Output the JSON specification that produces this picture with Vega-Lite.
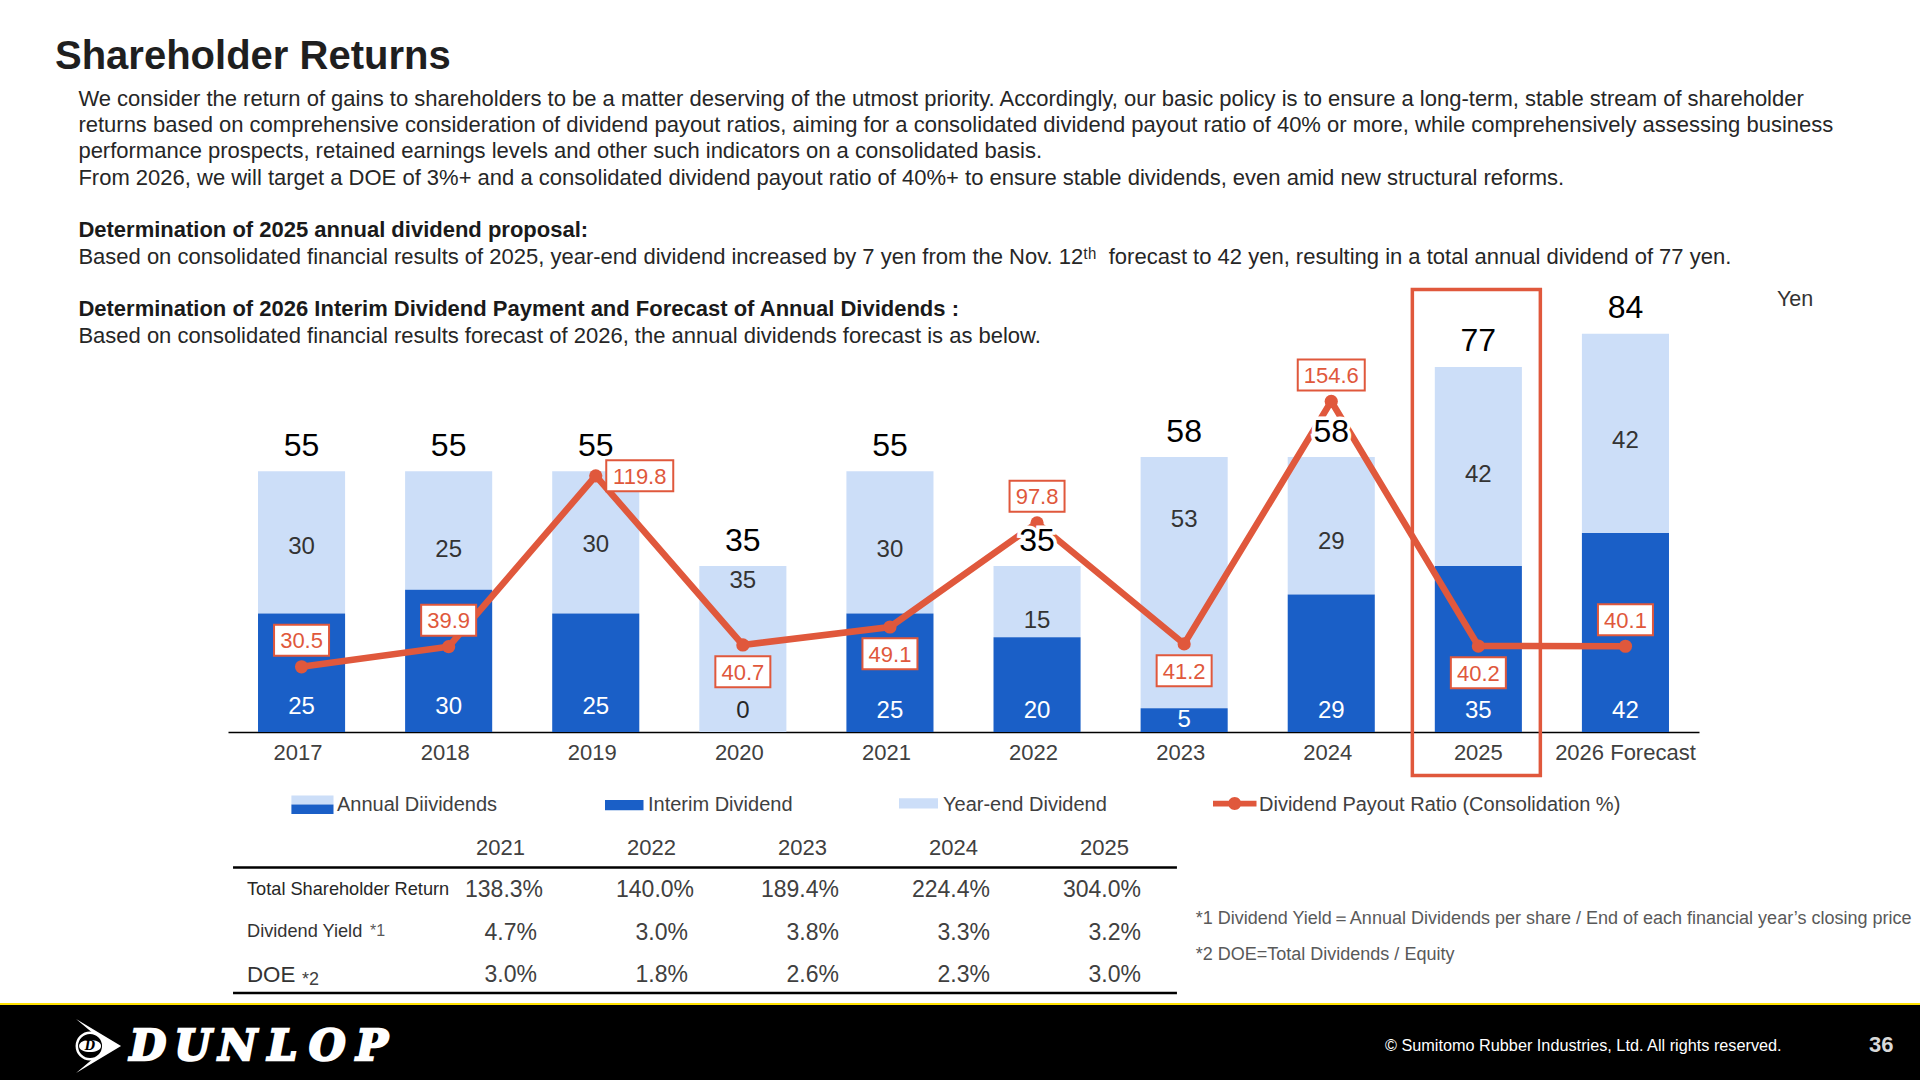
{
  "$schema": "https://vega.github.io/schema/vega-lite/v6.json",
  "width": 1920,
  "height": 1080,
  "padding": 0,
  "autosize": {"type": "none"},
  "background": "white",
  "config": {"font": "Liberation Sans", "view": {"stroke": null}},
  "title": {
    "text": "Shareholder Returns",
    "anchor": "start",
    "frame": "group",
    "offset": -77,
    "dx": 55,
    "fontSize": 40,
    "fontWeight": "bold",
    "color": "#1f1f1f"
  },
  "datasets": {
    "paragraphs": [
      {"line": 0, "kind": "body", "text": "We consider the return of gains to shareholders to be a matter deserving of the utmost priority. Accordingly, our basic policy is to ensure a long-term, stable stream of shareholder"},
      {"line": 1, "kind": "body", "text": "returns based on comprehensive consideration of dividend payout ratios, aiming for a consolidated dividend payout ratio of 40% or more, while comprehensively assessing business"},
      {"line": 2, "kind": "body", "text": "performance prospects, retained earnings levels and other such indicators on a consolidated basis."},
      {"line": 3, "kind": "body", "text": "From 2026, we will target a DOE of 3%+ and a consolidated dividend payout ratio of 40%+ to ensure stable dividends, even amid new structural reforms."},
      {"line": 5, "kind": "heading", "text": "Determination of 2025 annual dividend proposal:"},
      {"line": 6, "kind": "body", "text": "Based on consolidated financial results of 2025, year-end dividend increased by 7 yen from the Nov. 12ᵗʰ\u00a0 forecast to 42 yen, resulting in a total annual dividend of 77 yen."},
      {"line": 8, "kind": "heading", "text": "Determination of 2026 Interim Dividend Payment and Forecast of Annual Dividends :"},
      {"line": 9, "kind": "body", "text": "Based on consolidated financial results forecast of 2026, the annual dividends forecast is as below."}
    ],
    "dividends": [
      {"year": "2017", "interim": 25, "yearEnd": 30, "total": 55, "ratio": 30.5},
      {"year": "2018", "interim": 30, "yearEnd": 25, "total": 55, "ratio": 39.9},
      {"year": "2019", "interim": 25, "yearEnd": 30, "total": 55, "ratio": 119.8},
      {"year": "2020", "interim": 0, "yearEnd": 35, "total": 35, "ratio": 40.7},
      {"year": "2021", "interim": 25, "yearEnd": 30, "total": 55, "ratio": 49.1},
      {"year": "2022", "interim": 20, "yearEnd": 15, "total": 35, "ratio": 97.8},
      {"year": "2023", "interim": 5, "yearEnd": 53, "total": 58, "ratio": 41.2},
      {"year": "2024", "interim": 29, "yearEnd": 29, "total": 58, "ratio": 154.6},
      {"year": "2025", "interim": 35, "yearEnd": 42, "total": 77, "ratio": 40.2},
      {"year": "2026 Forecast", "interim": 42, "yearEnd": 42, "total": 84, "ratio": 40.1}
    ],
    "legendItems": [
      {"slot": 0, "label": "Annual Diividends"},
      {"slot": 1, "label": "Interim Dividend"},
      {"slot": 2, "label": "Year-end Dividend"},
      {"slot": 3, "label": "Dividend Payout Ratio (Consolidation %)"}
    ],
    "returns": [
      {"metric": "Total Shareholder Return", "year": 2021, "value": 1.383},
      {"metric": "Total Shareholder Return", "year": 2022, "value": 1.4},
      {"metric": "Total Shareholder Return", "year": 2023, "value": 1.894},
      {"metric": "Total Shareholder Return", "year": 2024, "value": 2.244},
      {"metric": "Total Shareholder Return", "year": 2025, "value": 3.04},
      {"metric": "Dividend Yield", "year": 2021, "value": 0.047},
      {"metric": "Dividend Yield", "year": 2022, "value": 0.03},
      {"metric": "Dividend Yield", "year": 2023, "value": 0.038},
      {"metric": "Dividend Yield", "year": 2024, "value": 0.033},
      {"metric": "Dividend Yield", "year": 2025, "value": 0.032},
      {"metric": "DOE", "year": 2021, "value": 0.03},
      {"metric": "DOE", "year": 2022, "value": 0.018},
      {"metric": "DOE", "year": 2023, "value": 0.026},
      {"metric": "DOE", "year": 2024, "value": 0.023},
      {"metric": "DOE", "year": 2025, "value": 0.03}
    ],
    "slide": [
      {"key": "footer", "text": ""},
      {"key": "yen", "text": "Yen"},
      {"key": "note1", "text": "*1 Dividend Yield＝Annual Dividends per share / End of each financial year’s closing price"},
      {"key": "note2", "text": "*2 DOE=Total Dividends / Equity"},
      {"key": "copyright", "text": "© Sumitomo Rubber Industries, Ltd. All rights reserved."},
      {"key": "page", "text": "36"},
      {"key": "emblem", "text": "D"}
    ],
    "logoLetters": [
      {"letter": "D"},
      {"letter": "U"},
      {"letter": "N"},
      {"letter": "L"},
      {"letter": "O"},
      {"letter": "P"}
    ]
  },
  "resolve": {"scale": {"x": "independent", "y": "independent"}},
  "layer": [
    {
      "data": {"name": "paragraphs"},
      "encoding": {
        "x": {"datum": 4.083, "type": "quantitative", "scale": {"domain": [0, 100], "range": [0, 1920], "nice": false}, "axis": null},
        "y": {"field": "line", "type": "quantitative", "scale": {"domain": [0, 9], "range": [98.5, 335.5], "nice": false, "zero": false}, "axis": null},
        "text": {"field": "text"}
      },
      "layer": [
        {
          "transform": [{"filter": "datum.kind == 'body'"}],
          "mark": {"type": "text", "align": "left", "baseline": "middle", "fontSize": 22, "color": "#262626"}
        },
        {
          "transform": [{"filter": "datum.kind == 'heading'"}],
          "mark": {"type": "text", "align": "left", "baseline": "middle", "fontSize": 22, "fontWeight": "bold", "color": "#1a1a1a"}
        }
      ]
    },
    {
      "data": {"name": "dividends"},
      "transform": [
        {"calculate": "{'2017': 39.2, '2018': 38.6, '2019': 39.6, '2020': 32, '2021': 38.5, '2022': 23.7, '2023': 45, '2024': 40.3, '2025': 54.4, '2026 Forecast': 61.5}[datum.year]", "as": "yearEndAt"},
        {"calculate": "{'2017': 5.5, '2018': 5.5, '2019': 5.5, '2023': 2.7}[datum.year] || 4.6", "as": "interimAt"}
      ],
      "encoding": {
        "x": {
          "field": "year",
          "type": "nominal",
          "title": null,
          "scale": {"domain": ["2017", "2018", "2019", "2020", "2021", "2022", "2023", "2024", "2025", "2026 Forecast"], "range": [228, 1699], "paddingInner": 0.408, "paddingOuter": 0.204},
          "axis": {
            "offset": -348,
            "ticks": false,
            "grid": false,
            "labelAngle": 0,
            "labelFontSize": 22,
            "labelColor": "#404040",
            "labelPadding": 10,
            "labelOverlap": false,
            "labelOffset": {"expr": "datum.value >= '2025' ? 0 : -3.5"},
            "domainColor": "#000000",
            "domainWidth": 1.5
          }
        }
      },
      "layer": [
        {
          "mark": {"type": "bar", "color": "#CCDEF8"},
          "encoding": {
            "y": {"field": "total", "type": "quantitative", "scale": {"domain": [0, 84], "range": [732, 333.8], "nice": false}, "axis": null},
            "y2": {"field": "interim"}
          }
        },
        {
          "mark": {"type": "bar", "color": "#1A5FC7"},
          "encoding": {
            "y": {"field": "interim", "type": "quantitative", "axis": null}
          }
        },
        {
          "mark": {"type": "text", "fontSize": 24, "baseline": "middle", "dy": 1, "color": "#333333"},
          "encoding": {
            "y": {"field": "yearEndAt", "type": "quantitative", "axis": null},
            "text": {"field": "yearEnd"}
          }
        },
        {
          "mark": {"type": "text", "fontSize": 24, "baseline": "middle", "dy": 1},
          "encoding": {
            "y": {"field": "interimAt", "type": "quantitative", "axis": null},
            "text": {"field": "interim"},
            "color": {"condition": {"test": "datum.interim == 0", "value": "#262626"}, "value": "#ffffff"}
          }
        }
      ]
    },
    {
      "data": {"name": "dividends"},
      "encoding": {
        "x": {"field": "year", "type": "nominal", "scale": {"domain": ["2017", "2018", "2019", "2020", "2021", "2022", "2023", "2024", "2025", "2026 Forecast"], "range": [228, 1699], "paddingInner": 0.408, "paddingOuter": 0.204}, "axis": null},
        "y": {"field": "ratio", "type": "quantitative", "scale": {"domain": [0, 154.6], "range": [732, 401.4], "nice": false}, "axis": null}
      },
      "layer": [
        {"mark": {"type": "line", "color": "#E0583C", "strokeWidth": 6.5}},
        {"mark": {"type": "point", "shape": "circle", "filled": true, "color": "#E0583C", "size": 175, "opacity": 1}}
      ]
    },
    {
      "data": {"name": "dividends"},
      "encoding": {
        "x": {"field": "year", "type": "nominal", "scale": {"domain": ["2017", "2018", "2019", "2020", "2021", "2022", "2023", "2024", "2025", "2026 Forecast"], "range": [228, 1699], "paddingInner": 0.408, "paddingOuter": 0.204}, "axis": null},
        "y": {"field": "total", "type": "quantitative", "scale": {"domain": [0, 84], "range": [732, 333.8], "nice": false}, "axis": null},
        "text": {"field": "total"}
      },
      "layer": [
        {"mark": {"type": "text", "fontSize": 32, "baseline": "middle", "dy": -25.5, "color": "#ffffff", "stroke": "#ffffff", "strokeWidth": 7}},
        {"mark": {"type": "text", "fontSize": 32, "baseline": "middle", "dy": -25.5, "color": "#000000"}},
        {
          "transform": [{"filter": "datum.year == '2025'"}],
          "mark": {"type": "point", "filled": false, "size": 4, "opacity": 1, "shape": "M-66,-243H62V243H-66Z", "stroke": "#E0583C", "strokeWidth": 3.5},
          "encoding": {"y": {"datum": 42.1, "type": "quantitative", "axis": null}, "text": null}
        }
      ]
    },
    {
      "data": {"name": "dividends"},
      "transform": [
        {"calculate": "indexof(['2017', '2018', '2022', '2024', '2026 Forecast'], datum.year) >= 0 ? datum.ratio + 12.4 : datum.year == '2019' ? datum.ratio : datum.ratio - 12.5", "as": "boxAt"}
      ],
      "encoding": {
        "x": {"field": "year", "type": "nominal", "scale": {"domain": ["2017", "2018", "2019", "2020", "2021", "2022", "2023", "2024", "2025", "2026 Forecast"], "range": [228, 1699], "paddingInner": 0.408, "paddingOuter": 0.204}, "axis": null},
        "y": {"field": "boxAt", "type": "quantitative", "scale": {"domain": [0, 154.6], "range": [732, 401.4], "nice": false}, "axis": null}
      },
      "layer": [
        {
          "transform": [{"filter": "datum.ratio < 100"}],
          "layer": [
            {"mark": {"type": "point", "filled": true, "fill": "#ffffff", "stroke": "#E0583C", "strokeWidth": 2, "opacity": 1, "size": 4, "shape": "M-27.5,-15.5H27.5V15.5H-27.5Z"}},
            {"mark": {"type": "text", "fontSize": 22, "baseline": "middle", "dy": 1, "color": "#E0583C"}, "encoding": {"text": {"field": "ratio", "format": ".1f"}}}
          ]
        },
        {
          "transform": [{"filter": "datum.year == '2024'"}],
          "layer": [
            {"mark": {"type": "point", "filled": true, "fill": "#ffffff", "stroke": "#E0583C", "strokeWidth": 2, "opacity": 1, "size": 4, "shape": "M-33.5,-15.5H33.5V15.5H-33.5Z"}},
            {"mark": {"type": "text", "fontSize": 22, "baseline": "middle", "dy": 1, "color": "#E0583C"}, "encoding": {"text": {"field": "ratio", "format": ".1f"}}}
          ]
        },
        {
          "transform": [{"filter": "datum.year == '2019'"}],
          "layer": [
            {"mark": {"type": "point", "filled": true, "fill": "#ffffff", "stroke": "#E0583C", "strokeWidth": 2, "opacity": 1, "size": 4, "shape": "M10.5,-15.5H77.5V15.5H10.5Z"}},
            {"mark": {"type": "text", "fontSize": 22, "baseline": "middle", "dx": 44, "dy": 1, "color": "#E0583C"}, "encoding": {"text": {"field": "ratio", "format": ".1f"}}}
          ]
        }
      ]
    },
    {
      "data": {"name": "legendItems"},
      "encoding": {
        "x": {"field": "slot", "type": "quantitative", "scale": {"domain": [0, 1, 2, 3], "range": [337, 648, 943, 1259], "nice": false, "zero": false}, "axis": null},
        "y": {"datum": 74.5, "type": "quantitative", "scale": {"domain": [0, 100], "range": [0, 1080], "nice": false}, "axis": null}
      },
      "layer": [
        {
          "transform": [{"filter": "datum.slot == 0"}],
          "layer": [
            {"mark": {"type": "point", "filled": true, "color": "#CCDEF8", "opacity": 1, "size": 4, "shape": "M-45.6,-9H-3.5V0H-45.6Z"}},
            {"mark": {"type": "point", "filled": true, "color": "#1A5FC7", "opacity": 1, "size": 4, "shape": "M-45.6,0H-3.5V9.5H-45.6Z"}}
          ]
        },
        {
          "transform": [{"filter": "datum.slot == 1"}],
          "mark": {"type": "point", "filled": true, "color": "#1A5FC7", "opacity": 1, "size": 4, "shape": "M-43,-4.7H-4.5V5.7H-43Z"}
        },
        {
          "transform": [{"filter": "datum.slot == 2"}],
          "mark": {"type": "point", "filled": true, "color": "#CCDEF8", "opacity": 1, "size": 4, "shape": "M-44,-6.3H-5V4H-44Z"}
        },
        {
          "transform": [{"filter": "datum.slot == 3"}],
          "mark": {"type": "point", "filled": true, "color": "#E0583C", "opacity": 1, "size": 4, "shape": "M-46,-3.8H-2.5V1.8H-46ZM-30.8,-1A6.5,6.5 0 1 1 -17.8,-1A6.5,6.5 0 1 1 -30.8,-1Z"}
        },
        {
          "mark": {"type": "text", "align": "left", "baseline": "middle", "fontSize": 20, "color": "#404040"},
          "encoding": {"text": {"field": "label"}}
        }
      ]
    },
    {
      "data": {"name": "returns"},
      "transform": [
        {"calculate": "indexof(['Total Shareholder Return', 'Dividend Yield', 'DOE'], datum.metric) + 1", "as": "row"},
        {"calculate": "datum.row == 1 && datum.year < 2023 ? datum.year + 0.04 : datum.year", "as": "valueX"}
      ],
      "encoding": {
        "x": {"field": "year", "type": "quantitative", "scale": {"domain": [2021, 2025], "range": [537, 1141], "nice": false, "zero": false}, "axis": null},
        "y": {"field": "row", "type": "quantitative", "scale": {"domain": [0, 3], "range": [848, 975], "nice": false, "zero": false}, "axis": null}
      },
      "layer": [
        {
          "mark": {"type": "text", "align": "right", "baseline": "middle", "fontSize": 23, "color": "#404040"},
          "encoding": {
            "x": {"field": "valueX", "type": "quantitative", "axis": null},
            "text": {"field": "value", "format": ".1%"}
          }
        },
        {
          "transform": [{"filter": "datum.row == 1"}],
          "mark": {"type": "text", "align": "right", "baseline": "middle", "dx": -12, "fontSize": 22, "color": "#404040"},
          "encoding": {
            "y": {"datum": 0, "type": "quantitative", "axis": null},
            "text": {"field": "year", "format": "d"}
          }
        },
        {
          "transform": [{"filter": "datum.year == 2021 && datum.row == 1"}],
          "mark": {"type": "text", "align": "left", "baseline": "middle", "dx": -290, "fontSize": 18.2, "color": "#262626"},
          "encoding": {"x": {"datum": 2021, "type": "quantitative", "axis": null}, "text": {"field": "metric"}}
        },
        {
          "transform": [{"filter": "datum.year == 2021 && datum.row == 2"}],
          "mark": {"type": "text", "align": "left", "baseline": "middle", "dx": -290, "dy": -1, "fontSize": 18.2, "color": "#333333"},
          "encoding": {"x": {"datum": 2021, "type": "quantitative", "axis": null}, "text": {"field": "metric"}}
        },
        {
          "transform": [{"filter": "datum.year == 2021 && datum.row == 2"}],
          "mark": {"type": "text", "align": "left", "baseline": "middle", "dx": -167, "dy": -2, "fontSize": 16, "color": "#595959", "text": "*1"},
          "encoding": {"x": {"datum": 2021, "type": "quantitative", "axis": null}}
        },
        {
          "transform": [{"filter": "datum.year == 2021 && datum.row == 3"}],
          "mark": {"type": "text", "align": "left", "baseline": "middle", "dx": -290, "fontSize": 22.3, "color": "#333333"},
          "encoding": {"x": {"datum": 2021, "type": "quantitative", "axis": null}, "text": {"field": "metric"}}
        },
        {
          "transform": [{"filter": "datum.year == 2021 && datum.row == 3"}],
          "mark": {"type": "text", "align": "left", "baseline": "middle", "dx": -235, "dy": 5, "fontSize": 18, "color": "#404040", "text": "*2"},
          "encoding": {"x": {"datum": 2021, "type": "quantitative", "axis": null}}
        },
        {
          "transform": [{"filter": "datum.year == 2021 && datum.row == 1"}],
          "mark": {"type": "rule", "color": "#000000", "strokeWidth": 2.5},
          "encoding": {
            "x": {"datum": 2018.987, "type": "quantitative", "axis": null},
            "x2": {"datum": 2025.238},
            "y": {"datum": 0.46, "type": "quantitative", "axis": null}
          }
        },
        {
          "transform": [{"filter": "datum.year == 2021 && datum.row == 1"}],
          "mark": {"type": "rule", "color": "#000000", "strokeWidth": 2.5},
          "encoding": {
            "x": {"datum": 2018.987, "type": "quantitative", "axis": null},
            "x2": {"datum": 2025.238},
            "y": {"datum": 3.425, "type": "quantitative", "axis": null}
          }
        }
      ]
    },
    {
      "data": {"name": "slide"},
      "encoding": {
        "x": {"datum": 0, "type": "quantitative", "scale": {"domain": [0, 100], "range": [0, 1920], "nice": false}, "axis": null},
        "y": {"datum": 0, "type": "quantitative", "scale": {"domain": [0, 100], "range": [0, 1080], "nice": false}, "axis": null}
      },
      "layer": [
        {
          "transform": [{"filter": "datum.key == 'footer'"}],
          "layer": [
            {
              "mark": {"type": "rect", "color": "#000000"},
              "encoding": {
                "x": {"datum": 0, "type": "quantitative", "axis": null},
                "x2": {"datum": 100},
                "y": {"datum": 92.96, "type": "quantitative", "axis": null},
                "y2": {"datum": 100}
              }
            },
            {
              "mark": {"type": "rect", "color": "#FFE100"},
              "encoding": {
                "x": {"datum": 0, "type": "quantitative", "axis": null},
                "x2": {"datum": 100},
                "y": {"datum": 92.87, "type": "quantitative", "axis": null},
                "y2": {"datum": 93.06}
              }
            },
            {
              "mark": {"type": "point", "filled": true, "color": "#ffffff", "opacity": 1, "size": 4, "shape": "M-14,-27L31,0L-14,27L5,11L5,-11Z"},
              "encoding": {"x": {"datum": 4.69, "type": "quantitative", "axis": null}, "y": {"datum": 96.85, "type": "quantitative", "axis": null}}
            },
            {
              "mark": {"type": "point", "shape": "circle", "filled": true, "fill": "#000000", "stroke": "#ffffff", "strokeWidth": 2.5, "opacity": 1, "size": 700},
              "encoding": {"x": {"datum": 4.69, "type": "quantitative", "axis": null}, "y": {"datum": 96.85, "type": "quantitative", "axis": null}}
            },
            {
              "mark": {"type": "point", "filled": true, "color": "#ffffff", "opacity": 1, "size": 4, "shape": "M-11,0C-11,-8 11,-8 11,0C11,8 -11,8 -11,0Z"},
              "encoding": {"x": {"datum": 4.69, "type": "quantitative", "axis": null}, "y": {"datum": 96.85, "type": "quantitative", "axis": null}}
            }
          ]
        },
        {
          "transform": [{"filter": "datum.key == 'emblem'"}],
          "mark": {"type": "text", "font": "DejaVu Serif", "fontWeight": "bold", "fontStyle": "italic", "fontSize": 12, "baseline": "middle", "color": "#000000"},
          "encoding": {"x": {"datum": 4.69, "type": "quantitative", "axis": null}, "y": {"datum": 96.85, "type": "quantitative", "axis": null}, "text": {"field": "text"}}
        },
        {
          "transform": [{"filter": "datum.key == 'copyright'"}],
          "mark": {"type": "text", "fontSize": 16.25, "align": "left", "baseline": "middle", "color": "#ffffff"},
          "encoding": {"x": {"datum": 72.13, "type": "quantitative", "axis": null}, "y": {"datum": 96.85, "type": "quantitative", "axis": null}, "text": {"field": "text"}}
        },
        {
          "transform": [{"filter": "datum.key == 'page'"}],
          "mark": {"type": "text", "fontSize": 22, "fontWeight": "bold", "align": "left", "baseline": "middle", "color": "#d9d9d9"},
          "encoding": {"x": {"datum": 97.35, "type": "quantitative", "axis": null}, "y": {"datum": 96.75, "type": "quantitative", "axis": null}, "text": {"field": "text"}}
        },
        {
          "transform": [{"filter": "datum.key == 'yen'"}],
          "mark": {"type": "text", "fontSize": 21.5, "align": "left", "baseline": "middle", "color": "#333333"},
          "encoding": {"x": {"datum": 92.55, "type": "quantitative", "axis": null}, "y": {"datum": 27.8, "type": "quantitative", "axis": null}, "text": {"field": "text"}}
        },
        {
          "transform": [{"filter": "datum.key == 'note1'"}],
          "mark": {"type": "text", "fontSize": 18, "align": "left", "baseline": "middle", "color": "#595959"},
          "encoding": {"x": {"datum": 62.28, "type": "quantitative", "axis": null}, "y": {"datum": 85.07, "type": "quantitative", "axis": null}, "text": {"field": "text"}}
        },
        {
          "transform": [{"filter": "datum.key == 'note2'"}],
          "mark": {"type": "text", "fontSize": 18, "align": "left", "baseline": "middle", "color": "#595959"},
          "encoding": {"x": {"datum": 62.28, "type": "quantitative", "axis": null}, "y": {"datum": 88.43, "type": "quantitative", "axis": null}, "text": {"field": "text"}}
        }
      ]
    },
    {
      "data": {"name": "logoLetters"},
      "mark": {"type": "text", "font": "DejaVu Serif", "fontWeight": "bold", "fontStyle": "italic", "fontSize": 42, "baseline": "middle", "color": "#ffffff", "stroke": "#ffffff", "strokeWidth": 2.5},
      "encoding": {
        "x": {"field": "letter", "type": "nominal", "sort": null, "scale": {"type": "point", "range": [148, 372], "padding": 0}, "axis": null},
        "y": {"datum": 96.9, "type": "quantitative", "scale": {"domain": [0, 100], "range": [0, 1080], "nice": false}, "axis": null},
        "text": {"field": "letter"}
      }
    }
  ]
}
